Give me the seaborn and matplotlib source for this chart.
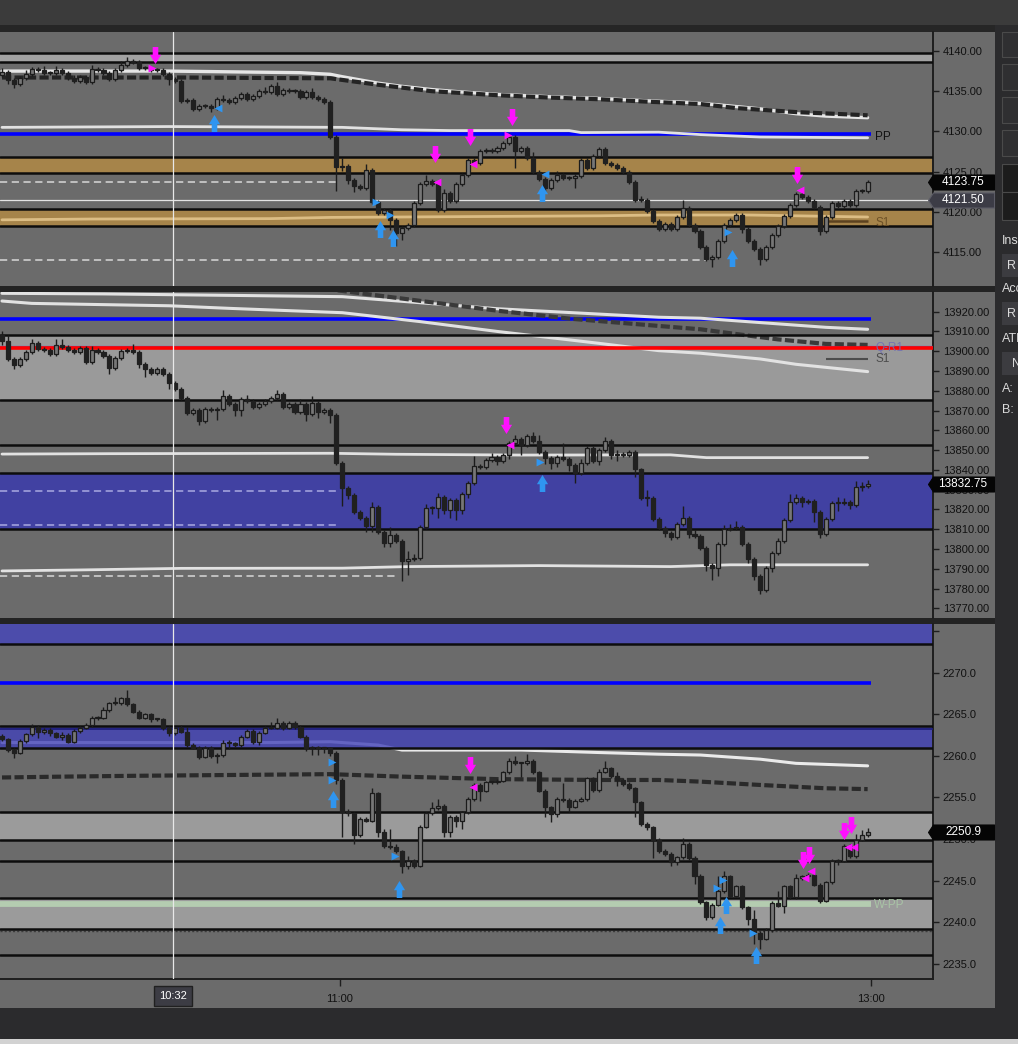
import numpy as np
import pandas as pd
import matplotlib
matplotlib.use("Agg")
import matplotlib.pyplot as plt
import seaborn as sns
from matplotlib.patches import Rectangle
from matplotlib.path import Path
import matplotlib.transforms as mtransforms

# ---------------------------------------------------------------- data
# panel 1 (ES) ------------------------------------------------------
p1_open0 = 4137.0
p1_close = [4137.4, 4136.4, 4135.9, 4136.6, 4137.1, 4137.8, 4137.6, 4137.3, 4137.3, 4137.6,
            4137.3, 4136.7, 4136.3, 4136.8, 4136.2, 4137.8, 4137.6, 4137.3, 4136.5, 4137.6,
            4138.3, 4138.7, 4138.6, 4137.9, 4137.9, 4137.6, 4137.6, 4137.1, 4136.5, 4136.3,
            4133.8, 4133.9, 4132.8, 4133.2, 4133.1, 4132.9, 4134.0, 4133.9, 4133.6, 4134.2,
            4134.6, 4134.0, 4134.4, 4135.0, 4134.9, 4135.6, 4134.7, 4135.1, 4135.0, 4135.0,
            4134.3, 4134.9, 4134.3, 4134.0, 4133.7, 4129.3, 4125.6, 4125.7, 4124.0, 4123.2,
            4123.0, 4125.2, 4121.2, 4119.8, 4120.2, 4119.0, 4117.3, 4118.0, 4118.3, 4121.1,
            4123.4, 4123.8, 4123.5, 4120.2, 4122.3, 4121.3, 4123.4, 4124.6, 4126.5, 4126.1,
            4127.5, 4127.7, 4127.5, 4127.9, 4128.5, 4129.3, 4127.5, 4127.9, 4126.7, 4124.9,
            4124.1, 4122.9, 4123.9, 4124.6, 4124.2, 4124.2, 4124.5, 4126.5, 4125.5, 4126.9,
            4127.8, 4126.1, 4125.8, 4125.5, 4124.9, 4123.7, 4121.5, 4121.5, 4120.1, 4118.9,
            4117.8, 4118.5, 4117.8, 4119.3, 4120.5, 4118.4, 4117.6, 4115.6, 4114.1, 4114.4,
            4116.4, 4118.3, 4119.0, 4119.6, 4117.8, 4116.4, 4115.4, 4114.1, 4115.6, 4117.1,
            4118.2, 4119.5, 4120.9, 4122.2, 4121.8, 4121.4, 4120.6, 4117.6, 4119.3, 4121.1,
            4120.7, 4121.3, 4120.9, 4122.6, 4122.6, 4123.75]
p1_tick = 0.25
p1_up = [2, 1, 1, 1, 2, 1, 1, 2, 1, 2, 1, 1, 1, 1, 1, 2, 1, 1, 1, 1,
         2, 2, 1, 1, 1, 1, 1, 1, 1, 1, 1, 1, 1, 1, 1, 1, 1, 2, 1, 1,
         1, 1, 1, 1, 2, 1, 2, 1, 1, 1, 1, 1, 2, 1, 1, 1, 1, 4, 1, 1,
         1, 3, 1, 1, 1, 1, 1, 1, 1, 1, 1, 3, 1, 1, 2, 1, 1, 1, 1, 1,
         1, 1, 1, 1, 1, 2, 1, 1, 1, 3, 1, 1, 1, 2, 1, 1, 1, 1, 1, 1,
         1, 1, 1, 1, 1, 1, 1, 2, 1, 1, 1, 1, 1, 1, 4, 1, 1, 1, 1, 1,
         1, 1, 1, 1, 1, 1, 1, 1, 1, 1, 1, 1, 1, 1, 1, 1, 1, 1, 1, 1,
         1, 1, 1, 1, 1, 1]
p1_lo = [1, 2, 2, 1, 1, 1, 1, 1, 1, 1, 1, 1, 1, 1, 1, 1, 1, 1, 1, 1,
         1, 1, 1, 1, 1, 1, 1, 1, 3, 1, 1, 1, 1, 1, 1, 2, 1, 1, 1, 1,
         1, 1, 1, 1, 1, 1, 1, 1, 1, 1, 1, 1, 1, 1, 1, 1, 12, 2, 2, 3,
         1, 1, 1, 1, 1, 5, 6, 3, 1, 1, 1, 1, 1, 1, 1, 1, 1, 1, 1, 1,
         1, 1, 1, 1, 1, 1, 8, 1, 1, 1, 1, 2, 1, 1, 1, 1, 5, 1, 1, 1,
         1, 1, 1, 1, 1, 1, 1, 1, 1, 1, 1, 1, 1, 1, 1, 1, 1, 1, 1, 4,
         1, 1, 1, 1, 2, 1, 1, 3, 1, 1, 1, 1, 1, 1, 1, 1, 1, 2, 1, 1,
         1, 1, 1, 1, 1, 1]
p1_ylim = (4110.77, 4142.36)
p1_yticks = [4115, 4120, 4125, 4130, 4135, 4140]
p1_gray_band = (4138.67, 4139.8)
p1_gold_bands = [(4124.86, 4126.85), (4118.24, 4120.35)]
p1_black = [4139.8, 4138.67, 4126.85, 4124.86, 4120.35, 4118.24]
p1_blue = 4129.64
p1_dash_levels = [4123.74, 4114.0]
p1_dash_ends = [56, 118]
p1_price_line = 4121.5
p1_last = 4123.75
p1_ma_x = [0, 30, 55, 57, 63, 72, 83, 92, 100, 108, 117, 123, 133, 145]
p1_ma_y = [4136.7, 4136.7, 4136.6, 4136.4, 4135.8, 4135.0, 4134.5, 4134.2, 4134.0, 4133.7,
           4133.4, 4132.9, 4132.4, 4132.0]
p1_vw_x = [0, 28, 50, 55, 57, 63, 67, 72, 77, 83, 92, 100, 108, 115, 120, 127, 133, 138, 145]
p1_vw_y = [4137.5, 4137.5, 4137.3, 4137.1, 4136.8, 4136.0, 4135.6, 4135.2, 4134.9, 4134.6,
           4134.3, 4134.1, 4133.8, 4133.6, 4133.3, 4132.8, 4132.2, 4131.9, 4131.7]
p1_w2_x = [0, 28, 57, 67, 75, 95, 97, 110, 117, 127, 145]
p1_w2_y = [4130.5, 4130.6, 4130.5, 4130.2, 4130.1, 4130.1, 4129.85, 4129.9, 4129.6, 4129.3, 4129.2]
p1_gold_x = [0, 15, 45, 55, 100, 110, 125, 145]
p1_gold_y = [4119.0, 4119.1, 4119.15, 4119.3, 4119.5, 4119.6, 4119.6, 4119.35]
p1_s1 = 4118.8
p1_arr_dn = [(25.6, 4139.5), (72.5, 4127.2), (78.4, 4129.3), (85.4, 4131.8), (133.2, 4124.6)]
p1_arr_up = [(35.5, 4131.0), (63.3, 4117.9), (65.5, 4116.7), (90.5, 4122.3), (122.3, 4114.3)]
p1_tri_m_r = [(25.1, 4137.9), (84.8, 4129.6)]
p1_tri_m_l = [(72.9, 4123.7), (78.9, 4125.9), (133.7, 4122.7)]
p1_tri_b_r = [(62.6, 4121.2), (65.0, 4119.6), (121.6, 4117.5)]
p1_tri_b_l = [(36.2, 4132.9), (91.0, 4124.7)]

# panel 2 (NQ) ------------------------------------------------------
p2_open0 = 13908.0
p2_close = [13905.0, 13896.1, 13893.1, 13896.1, 13899.8, 13904.0, 13901.2, 13900.7, 13898.5, 13903.2,
            13902.2, 13900.5, 13899.8, 13901.5, 13894.7, 13900.7, 13899.5, 13897.8, 13891.7, 13896.5,
            13900.2, 13900.7, 13899.5, 13893.6, 13891.2, 13889.2, 13891.2, 13888.7, 13884.1, 13881.1,
            13876.4, 13869.0, 13870.2, 13864.6, 13871.0, 13870.2, 13870.9, 13877.6, 13873.5, 13870.5,
            13876.0, 13874.6, 13871.8, 13873.5, 13874.6, 13876.3, 13878.5, 13871.8, 13873.1, 13869.2,
            13873.1, 13868.5, 13873.6, 13869.2, 13870.5, 13867.7, 13843.4, 13830.7, 13827.2, 13818.9,
            13815.5, 13811.8, 13821.0, 13808.4, 13803.2, 13807.3, 13803.9, 13793.9, 13795.0, 13795.5,
            13811.1, 13820.6, 13820.6, 13826.4, 13819.6, 13824.7, 13819.6, 13827.7, 13833.2, 13842.0,
            13841.7, 13845.0, 13846.4, 13844.3, 13847.5, 13853.5, 13855.5, 13852.6, 13857.2, 13854.4,
            13849.2, 13845.8, 13843.4, 13846.4, 13845.4, 13842.5, 13838.6, 13843.4, 13851.0, 13844.3,
            13850.2, 13854.4, 13847.4, 13848.2, 13847.4, 13849.0, 13840.2, 13825.9, 13825.9, 13815.4,
            13810.7, 13808.2, 13806.3, 13812.7, 13815.8, 13807.7, 13806.5, 13800.7, 13791.9, 13790.3,
            13802.4, 13810.0, 13810.8, 13811.0, 13802.4, 13794.8, 13786.4, 13779.3, 13790.3, 13797.9,
            13803.8, 13814.7, 13823.6, 13826.0, 13824.0, 13824.5, 13818.6, 13807.5, 13815.3, 13823.2,
            13823.1, 13823.6, 13822.4, 13831.5, 13831.8, 13832.75]
p2_tick = 1.0
p2_up = [2, 3, 1, 1, 1, 2, 1, 1, 1, 3, 3, 1, 1, 1, 1, 2, 1, 1, 1, 1,
         1, 1, 3, 1, 1, 1, 1, 1, 1, 1, 1, 1, 1, 1, 1, 1, 1, 3, 1, 1,
         1, 2, 1, 1, 1, 1, 2, 1, 1, 1, 3, 1, 4, 1, 1, 1, 1, 1, 1, 1,
         1, 1, 3, 1, 1, 4, 1, 1, 4, 2, 1, 2, 1, 2, 1, 1, 1, 1, 1, 5,
         1, 1, 2, 1, 1, 1, 2, 1, 1, 2, 3, 1, 1, 1, 7, 1, 1, 2, 1, 1,
         1, 2, 1, 2, 1, 1, 1, 1, 4, 1, 1, 1, 1, 1, 6, 1, 2, 1, 1, 1,
         1, 2, 2, 3, 1, 1, 1, 1, 1, 1, 2, 1, 4, 2, 1, 1, 1, 1, 1, 1,
         3, 2, 1, 3, 2, 2]
p2_lo = [2, 1, 2, 1, 1, 1, 1, 1, 1, 1, 1, 1, 1, 1, 1, 1, 1, 1, 3, 1,
         1, 1, 1, 2, 4, 1, 1, 1, 3, 1, 1, 1, 1, 2, 1, 1, 5, 1, 1, 3,
         3, 1, 1, 1, 1, 1, 1, 1, 1, 1, 1, 4, 1, 3, 1, 4, 1, 9, 2, 1,
         1, 3, 3, 1, 2, 2, 1, 10, 7, 1, 1, 1, 3, 5, 2, 4, 5, 2, 2, 1,
         1, 1, 1, 2, 1, 2, 1, 5, 1, 1, 1, 3, 3, 2, 1, 3, 5, 1, 1, 1,
         2, 1, 2, 3, 1, 1, 4, 1, 4, 1, 1, 2, 2, 1, 1, 2, 1, 1, 3, 6,
         4, 1, 1, 1, 1, 2, 2, 2, 1, 2, 1, 1, 1, 1, 3, 1, 5, 2, 1, 1,
         4, 1, 2, 1, 2, 1]
p2_ylim = (13765.1, 13929.96)
p2_yticks = list(range(13770, 13921, 10))
p2_gray_band = (13875.1, 13908.0)
p2_blue_band = (13810.0, 13838.6)
p2_black = [13908.0, 13875.1, 13852.6, 13838.6, 13810.0]
p2_blue = 13916.2
p2_red = 13901.5
p2_purple = 13902.9
p2_lav_dash = [13829.4, 13812.2]
p2_lav_end = 56
p2_dash = 13786.1
p2_dash_end = 66
p2_s1 = 13896.3
p2_last = 13832.75
p2_wa_x = [0, 17, 57, 83, 110, 117, 127, 138, 145]
p2_wa_y = [13929.3, 13929.0, 13927.6, 13921.5, 13917.2, 13916.7, 13914.5, 13912.1, 13911.1]
p2_wb_x = [0, 5, 28, 38, 50, 57, 70, 83, 100, 110, 117, 127, 133, 145]
p2_wb_y = [13925.4, 13924.2, 13923.0, 13921.7, 13920.3, 13919.5, 13915.0, 13910.0, 13904.0,
           13900.3, 13899.0, 13896.1, 13893.4, 13889.7]
p2_ma_x = [50, 57, 70, 83, 95, 110, 117, 123, 130, 138, 145]
p2_ma_y = [13933.0, 13930.5, 13925.5, 13920.5, 13916.5, 13912.8, 13911.1, 13908.7, 13906.0,
           13903.7, 13903.2]
p2_wc_x = [0, 18, 55, 66, 87, 112, 118, 128, 145]
p2_wc_y = [13848.0, 13848.2, 13848.4, 13847.9, 13847.5, 13847.6, 13846.2, 13846.2, 13846.2]
p2_wd_x = [0, 13, 30, 57, 68, 90, 112, 122, 145]
p2_wd_y = [13788.9, 13789.4, 13790.2, 13790.3, 13791.1, 13791.6, 13791.1, 13792.0, 13792.0]
p2_arr_dn = [(84.4, 13862.7)]
p2_arr_up = [(90.5, 13833.6)]
p2_tri_m_l = [(85.1, 13852.8)]
p2_tri_b_r = [(90.1, 13843.8)]

# panel 3 (TF) ------------------------------------------------------
p3_open0 = 2262.4
p3_close = [2262.0, 2260.7, 2260.4, 2261.8, 2262.6, 2263.5, 2262.9, 2263.1, 2262.7, 2262.3,
            2262.5, 2261.7, 2263.0, 2263.4, 2263.7, 2264.5, 2264.6, 2265.5, 2266.3, 2266.3,
            2266.9, 2266.2, 2265.3, 2264.6, 2265.0, 2264.4, 2264.4, 2263.4, 2262.7, 2263.3,
            2262.9, 2261.3, 2261.0, 2259.9, 2261.0, 2260.0, 2260.1, 2261.5, 2261.5, 2261.3,
            2262.3, 2263.0, 2261.7, 2262.8, 2263.4, 2263.4, 2264.0, 2263.4, 2264.0, 2263.5,
            2262.3, 2260.9, 2261.0, 2260.9, 2260.9, 2260.4, 2257.1, 2253.3, 2253.1, 2250.5,
            2252.4, 2252.2, 2255.5, 2250.9, 2249.1, 2249.0, 2248.5, 2246.7, 2247.3, 2246.8,
            2251.5, 2253.1, 2253.7, 2254.0, 2250.9, 2252.7, 2252.2, 2253.2, 2254.8, 2256.5,
            2255.8, 2256.8, 2256.8, 2257.0, 2258.0, 2259.4, 2259.1, 2259.1, 2259.4, 2258.0,
            2255.8, 2253.8, 2253.0, 2254.8, 2254.7, 2253.9, 2254.6, 2254.8, 2257.3, 2255.9,
            2258.1, 2258.5, 2257.6, 2257.1, 2256.6, 2256.1, 2254.4, 2251.8, 2251.4, 2249.9,
            2248.6, 2248.2, 2247.2, 2247.8, 2249.4, 2247.7, 2245.6, 2242.4, 2240.6, 2242.1,
            2243.7, 2245.5, 2243.2, 2244.3, 2241.8, 2240.4, 2238.7, 2238.0, 2239.0, 2242.3,
            2242.0, 2244.3, 2243.0, 2245.3, 2245.5, 2245.7, 2244.5, 2242.6, 2244.8, 2247.4,
            2247.4, 2249.2, 2247.9, 2249.9, 2250.5, 2250.9]
p3_tick = 0.1
p3_up = [2, 2, 2, 2, 2, 3, 2, 3, 2, 2, 4, 2, 2, 2, 2, 3, 2, 4, 2, 8,
         2, 10, 2, 2, 2, 2, 2, 2, 2, 2, 4, 6, 2, 2, 2, 2, 2, 4, 4, 2,
         2, 2, 2, 2, 2, 7, 5, 2, 2, 2, 2, 2, 2, 2, 2, 2, 2, 2, 3, 2,
         2, 2, 6, 2, 3, 21, 4, 2, 6, 3, 2, 2, 8, 8, 2, 2, 2, 2, 2, 2,
         2, 2, 2, 2, 2, 3, 6, 2, 8, 2, 2, 2, 2, 2, 19, 2, 2, 2, 2, 2,
         3, 9, 2, 4, 2, 2, 2, 2, 2, 2, 2, 2, 2, 2, 7, 2, 2, 2, 2, 2,
         18, 6, 2, 2, 2, 2, 10, 2, 3, 2, 15, 2, 2, 5, 2, 2, 2, 2, 2, 2,
         2, 2, 2, 7, 6, 4]
p3_lo = [2, 2, 6, 2, 2, 2, 8, 3, 3, 2, 4, 2, 2, 2, 2, 2, 2, 2, 2, 2,
         2, 2, 2, 2, 2, 3, 2, 3, 3, 2, 2, 2, 2, 3, 2, 3, 8, 2, 7, 2,
         2, 2, 3, 4, 2, 2, 2, 3, 2, 3, 2, 3, 8, 8, 5, 4, 5, 30, 3, 11,
         2, 2, 2, 7, 2, 2, 2, 8, 3, 3, 2, 2, 2, 2, 7, 7, 7, 10, 2, 2,
         12, 2, 2, 2, 2, 2, 2, 17, 2, 2, 2, 11, 10, 3, 2, 6, 2, 2, 2, 2,
         2, 2, 3, 7, 2, 2, 17, 2, 3, 22, 3, 3, 4, 3, 2, 2, 10, 2, 3, 2,
         2, 2, 2, 2, 2, 7, 13, 12, 2, 2, 2, 9, 2, 2, 2, 2, 2, 3, 2, 2,
         5, 2, 2, 2, 2, 2]
p3_ylim = (2233.16, 2275.86)
p3_yticks = [2235, 2240, 2245, 2250, 2255, 2260, 2265, 2270, 2275]
p3_ytick_labels = ["2235.0", "2240.0", "2245.0", "2250.0", "2255.0", "2260.0", "2265.0", "2270.0", ""]
p3_top_band = (2273.4, 2280.0)
p3_blue_band = (2261.0, 2263.6)
p3_gray_bands = [(2249.9, 2253.3), (2239.15, 2242.85)]
p3_black = [2273.4, 2263.6, 2261.0, 2253.3, 2249.9, 2247.4, 2242.85, 2239.15, 2236.1]
p3_blue = 2268.8
p3_thin_blue = 2263.2
p3_wpp = 2242.2
p3_dotted = 2238.95
p3_last = 2250.9
p3_w_x = [0, 45, 55, 63, 67, 87, 100, 110, 117, 127, 133, 145]
p3_w_y = [2261.6, 2261.6, 2261.7, 2261.3, 2260.7, 2260.7, 2260.4, 2260.2, 2260.1, 2259.6,
          2259.1, 2258.8]
p3_ma_x = [0, 10, 22, 55, 67, 83, 100, 110, 117, 127, 138, 145]
p3_ma_y = [2257.4, 2257.5, 2257.6, 2257.8, 2257.5, 2257.2, 2257.1, 2257.1, 2256.9, 2256.5,
           2256.1, 2256.0]
p3_arr_dn = [(78.4, 2258.9), (134.2, 2247.5), (135.2, 2248.1), (141.0, 2251.0), (142.2, 2251.7)]
p3_arr_up = [(55.4, 2254.8), (66.5, 2244.0), (120.3, 2239.7), (121.3, 2242.1), (126.3, 2236.0)]
p3_tri_m_l = [(78.9, 2256.2), (134.5, 2245.3), (135.5, 2246.1), (141.7, 2249.0), (142.7, 2249.0)]
p3_tri_b_r = [(55.3, 2259.3), (55.3, 2257.1), (65.8, 2248.0), (119.8, 2244.1), (120.8, 2245.1),
              (125.8, 2238.7)]

# time axis ---------------------------------------------------------
time_ticks = [56.6, 145.6]
time_labels = ["11:00", "13:00"]
cursor_bar = 28.6
cursor_label = "10:32"
x_range = (-0.335, 155.95)

# ---------------------------------------------------------------- style
sns.set_theme(style="dark")
plt.rcParams['font.family'] = ['Liberation Sans', 'DejaVu Sans']

W, H = 1018, 1044
fig = plt.figure(figsize=(W / 100, H / 100), dpi=100)
fig.patch.set_facecolor('#2b2b2d')

BG = '#6b6b6b'
DARK = '#1c1c1c'
MAG = '#ff10ff'
BLU = '#2f95f0'


def frect(x, y, w, h, color, z=-5, ec='none', lw=0):
    fig.add_artist(Rectangle((x / W, 1 - (y + h) / H), w / W, h / H,
                             transform=fig.transFigure, facecolor=color,
                             edgecolor=ec, linewidth=lw, zorder=z))


# window chrome
frect(0, 0, W, 25, '#3b3b3b', z=-7)
frect(0, 25, 995, 983, BG, z=-6)
frect(0, 25, 995, 7, '#262626', z=-5)
frect(0, 286, 995, 6, '#232323', z=-5)
frect(0, 618, 995, 6, '#232323', z=-5)
frect(0, 1039, W, 5, '#d2d2d2', z=-5)

# right-side control strip
for (yy, hh) in [(32, 25), (64, 26), (97, 26), (130, 26)]:
    frect(1002, yy, 20, hh, '#2f2f31', z=-4, ec='#4a4a4a', lw=0.8)
frect(1002, 164, 20, 28, '#1c1c1c', z=-4, ec='#4a4a4a', lw=0.8)
frect(1002, 192, 20, 28, '#1c1c1c', z=-4, ec='#4a4a4a', lw=0.8)
ui = [("Ins", 1002, 241), ("Acc", 1002, 289), ("ATM", 1002, 339), ("A:", 1002, 389), ("B:", 1002, 410)]
for t, xx, yy in ui:
    fig.text(xx / W, 1 - yy / H, t, color='#dadada', fontsize=9, va='center', ha='left')
for lab, yy, xo in [("R", 254, 1007), ("R", 302, 1007), ("N", 352, 1012)]:
    frect(1002, yy, 20, 23, '#3c3c40', z=-4)
    fig.text(xo / W, 1 - (yy + 12) / H, lab, color='#dadada', fontsize=9, va='center', ha='left')

AXW = 933


def make_ax(top, bottom, ylim, yticks, ylabels=None, fmt="{:.2f}"):
    ax = fig.add_axes([0, 1 - bottom / H, AXW / W, (bottom - top) / H])
    ax.set_facecolor(BG)
    ax.set_xlim(*x_range)
    ax.set_ylim(*ylim)
    for s in ['left', 'top', 'bottom']:
        ax.spines[s].set_visible(False)
    ax.spines['right'].set_color('#1e1e1e')
    ax.spines['right'].set_linewidth(1.4)
    ax.yaxis.tick_right()
    ax.set_yticks(yticks)
    ax.set_yticklabels(ylabels if ylabels is not None else [fmt.format(v) for v in yticks])
    ax.tick_params(axis='y', which='both', direction='out', length=4, width=1,
                   color='#1e1e1e', labelcolor='#111111', labelsize=8, pad=3,
                   right=True, left=False)
    ax.tick_params(axis='x', bottom=False, labelbottom=False)
    ax.grid(False)
    return ax


def candles(ax, open0, close, up, lo, tick, min_h):
    df = pd.DataFrame({'close': close})
    df['open'] = [open0] + list(close[:-1])
    df['high'] = np.maximum(df.open, df.close) + np.array(up) * tick
    df['low'] = np.minimum(df.open, df.close) - np.array(lo) * tick
    df['x'] = np.arange(len(df))
    ax.vlines(df.x, df.low, df.high, color=DARK, lw=1.0, zorder=6)
    bull = df.close >= df.open
    bot = np.minimum(df.open, df.close)
    hgt = np.maximum(np.abs(df.close - df.open), min_h)
    ax.bar(df.x[bull], hgt[bull], bottom=bot[bull], width=0.68, color='#777777',
           edgecolor=DARK, linewidth=0.9, zorder=7)
    ax.bar(df.x[~bull], hgt[~bull], bottom=bot[~bull], width=0.68, color='#202020',
           edgecolor='#202020', linewidth=0.9, zorder=7)


def arrow_marker(direction):
    v = [(-2.3, 7), (2.3, 7), (2.3, 0.6), (4.6, 0.6), (0, -7), (-4.6, 0.6), (-2.3, 0.6), (-2.3, 7)]
    if direction == 'up':
        v = [(a, -b) for a, b in v]
    return Path(v, closed=True)


ARR_DN = arrow_marker('dn')
ARR_UP = arrow_marker('up')


def signals(ax, dn=(), up=(), tml=(), tmr=(), tbl=(), tbr=()):
    if dn:
        ax.scatter(*zip(*dn), marker=ARR_DN, s=150, c=MAG, linewidths=0, zorder=9)
    if up:
        ax.scatter(*zip(*up), marker=ARR_UP, s=150, c=BLU, linewidths=0, zorder=9)
    for pts, mk, col in [(tml, '<', MAG), (tmr, '>', MAG), (tbl, '<', BLU), (tbr, '>', BLU)]:
        if pts:
            ax.scatter(*zip(*pts), marker=mk, s=32, c=col, linewidths=0, zorder=9)


TAG = Path([(-33, 0), (-28, 7.5), (33, 7.5), (33, -7.5), (-28, -7.5), (-33, 0)], closed=True)


def price_tag(ax, price, text, face, edge):
    tr = ax.get_yaxis_transform()
    ax.plot([961 / AXW], [price], marker=TAG, markersize=66 * 0.72, mfc=face, mec=edge,
             mew=0.8, linestyle='none', transform=tr, clip_on=False, zorder=20)
    ax.text(963 / AXW, price, text, transform=tr, ha='center', va='center', color='white',
            fontsize=8.5, zorder=21, clip_on=False)


def black_lines(ax, levels):
    for lv in levels:
        ax.axhline(lv, color='#0d0d0d', lw=1.8, zorder=4)


def ma_line(ax, xs, ys, color, lw, z=3):
    sns.lineplot(x=xs, y=ys, ax=ax, color=color, linewidth=lw, sort=False,
                 estimator=None, zorder=z, legend=False)


def dashed_ma(ax, xs, ys, color='#242424'):
    ax.plot(xs, ys, color=color, lw=3.0, dashes=(2.2, 0.8), dash_capstyle='butt', zorder=3.5)


END = 145.6

# ---------------------------------------------------------------- panel 1
ax1 = make_ax(32, 286, p1_ylim, p1_yticks)
ax1.axhspan(*p1_gray_band, color='#a2a2a2', zorder=1, lw=0)
for b in p1_gold_bands:
    ax1.axhspan(*b, color='#a6844a', zorder=1, lw=0)
black_lines(ax1, p1_black)
for lv, e in zip(p1_dash_levels, p1_dash_ends):
    ax1.hlines(lv, x_range[0], e, color='#c8c8c8', lw=1.3, linestyles=(0, (4, 2.5)), zorder=2)
ax1.axhline(p1_price_line, color='#e4e4e4', lw=0.9, zorder=2)
ax1.hlines(p1_blue, x_range[0], END, color='#0000ff', lw=2.6, zorder=3)
ma_line(ax1, p1_w2_x, p1_w2_y, '#e2e2e2', 2.0)
ma_line(ax1, p1_vw_x, p1_vw_y, '#e6e6e6', 2.4)
dashed_ma(ax1, p1_ma_x, p1_ma_y)
ma_line(ax1, p1_gold_x, p1_gold_y, '#dcbd84', 2.0)
ax1.hlines(p1_s1, 138, 145, color='#5c4220', lw=1.8, zorder=3)
ax1.text(146.3, p1_blue - 0.4, "PP", color='#111111', fontsize=8.5, va='center', ha='left', zorder=5)
ax1.text(146.3, p1_s1 - 0.15, "S1", color='#6e5228', fontsize=8.5, va='center', ha='left', zorder=5)
candles(ax1, p1_open0, p1_close, p1_up, p1_lo, p1_tick, 0.12)
signals(ax1, p1_arr_dn, p1_arr_up, p1_tri_m_l, p1_tri_m_r, p1_tri_b_l, p1_tri_b_r)
price_tag(ax1, p1_last, "4123.75", '#050505', '#050505')
price_tag(ax1, p1_price_line, "4121.50", '#3c3c46', '#5c5c66')

# ---------------------------------------------------------------- panel 2
ax2 = make_ax(292, 618, p2_ylim, p2_yticks)
ax2.axhspan(*p2_gray_band, color='#9a9a9a', zorder=1, lw=0)
ax2.axhspan(*p2_blue_band, color='#4141a2', zorder=1, lw=0)
black_lines(ax2, p2_black)
for lv in p2_lav_dash:
    ax2.hlines(lv, x_range[0], p2_lav_end, color='#9a9ad8', lw=1.3, linestyles=(0, (4, 2.5)), zorder=2)
ax2.hlines(p2_dash, x_range[0], p2_dash_end, color='#c8c8c8', lw=1.3, linestyles=(0, (4, 2.5)), zorder=2)
ax2.hlines(p2_blue, x_range[0], END, color='#0000ff', lw=2.6, zorder=3)
ax2.axhline(p2_purple, color='#5c5cb8', lw=0.9, zorder=2.6)
ax2.axhline(p2_red, color='#ff0000', lw=2.6, zorder=3.6)
ax2.text(146.3, p2_red + 0.2, "Q-R1", color='#7070b4', fontsize=8.5, va='center', ha='left',
         zorder=3.7, alpha=0.9)
ax2.hlines(p2_s1, 138, 145, color='#4c4c4c', lw=1.5, zorder=3)
ax2.text(146.3, p2_s1 - 0.4, "S1", color='#4c4c4c', fontsize=8.5, va='center', ha='left', zorder=5)
ma_line(ax2, p2_wa_x, p2_wa_y, '#e2e2e2', 2.2)
ma_line(ax2, p2_wb_x, p2_wb_y, '#e2e2e2', 2.2)
dashed_ma(ax2, p2_ma_x, p2_ma_y, color='#3a3a3a')
ma_line(ax2, p2_wc_x, p2_wc_y, '#e2e2e2', 2.0)
ma_line(ax2, p2_wd_x, p2_wd_y, '#e2e2e2', 2.0)
candles(ax2, p2_open0, p2_close, p2_up, p2_lo, p2_tick, 0.5)
signals(ax2, p2_arr_dn, p2_arr_up, p2_tri_m_l, (), (), p2_tri_b_r)
price_tag(ax2, p2_last, "13832.75", '#050505', '#050505')

# ---------------------------------------------------------------- panel 3
ax3 = make_ax(624, 979, p3_ylim, p3_yticks, p3_ytick_labels)
ax3.axhspan(*p3_top_band, color='#4c4cab', zorder=1, lw=0)
for b in p3_gray_bands:
    ax3.axhspan(*b, color='#9b9b9b', zorder=1, lw=0)
ma_line(ax3, p3_w_x, p3_w_y, '#eaeaea', 2.2, z=2)
ax3.axhspan(*p3_blue_band, color='#4242b8', alpha=0.8, zorder=2.4, lw=0)
black_lines(ax3, p3_black)
ax3.axhline(p3_thin_blue, color='#1c1c7a', lw=1.2, zorder=4)
ax3.hlines(p3_blue, x_range[0], END, color='#0000ff', lw=2.6, zorder=3)
ax3.hlines(p3_wpp, x_range[0], END, color='#b4ccb0', lw=4.2, zorder=3)
ax3.text(146.0, p3_wpp - 0.15, "W-PP", color='#a9c4a6', fontsize=8.5, va='center', ha='left', zorder=5)
ax3.axhline(p3_dotted, color='#3c3c3c', lw=1.0, linestyle=(0, (1.5, 1.5)), zorder=3)
dashed_ma(ax3, p3_ma_x, p3_ma_y, color='#2a2a2a')
candles(ax3, p3_open0, p3_close, p3_up, p3_lo, p3_tick, 0.12)
signals(ax3, p3_arr_dn, p3_arr_up, p3_tri_m_l, (), (), p3_tri_b_r)
price_tag(ax3, p3_last, "2250.9", '#050505', '#050505')

ax3.spines['bottom'].set_visible(True)
ax3.spines['bottom'].set_color('#1e1e1e')
ax3.spines['bottom'].set_linewidth(1.4)
ax3.set_xticks(time_ticks)
ax3.set_xticklabels(time_labels)
ax3.tick_params(axis='x', bottom=True, labelbottom=True, direction='out', length=5, width=1,
                color='#1e1e1e', labelcolor='#111111', labelsize=8, pad=6)

# crosshair
for ax in (ax1, ax2, ax3):
    ax.axvline(cursor_bar, color='#e8e8e8', lw=0.9, zorder=8)
ax3.text(cursor_bar, -0.049, cursor_label,
         transform=mtransforms.blended_transform_factory(ax3.transData, ax3.transAxes),
         ha='center', va='center', color='white', fontsize=8, zorder=20, clip_on=False,
         bbox=dict(boxstyle='square,pad=0.45', facecolor='#3c3c44', edgecolor='#202020', lw=1))

for ax, yl in ((ax1, p1_ylim), (ax2, p2_ylim), (ax3, p3_ylim)):
    ax.set_xlim(*x_range)
    ax.set_ylim(*yl)
    ax.set_xlabel("")
    ax.set_ylabel("")

fig.savefig("out.png", dpi=100, facecolor=fig.get_facecolor())
